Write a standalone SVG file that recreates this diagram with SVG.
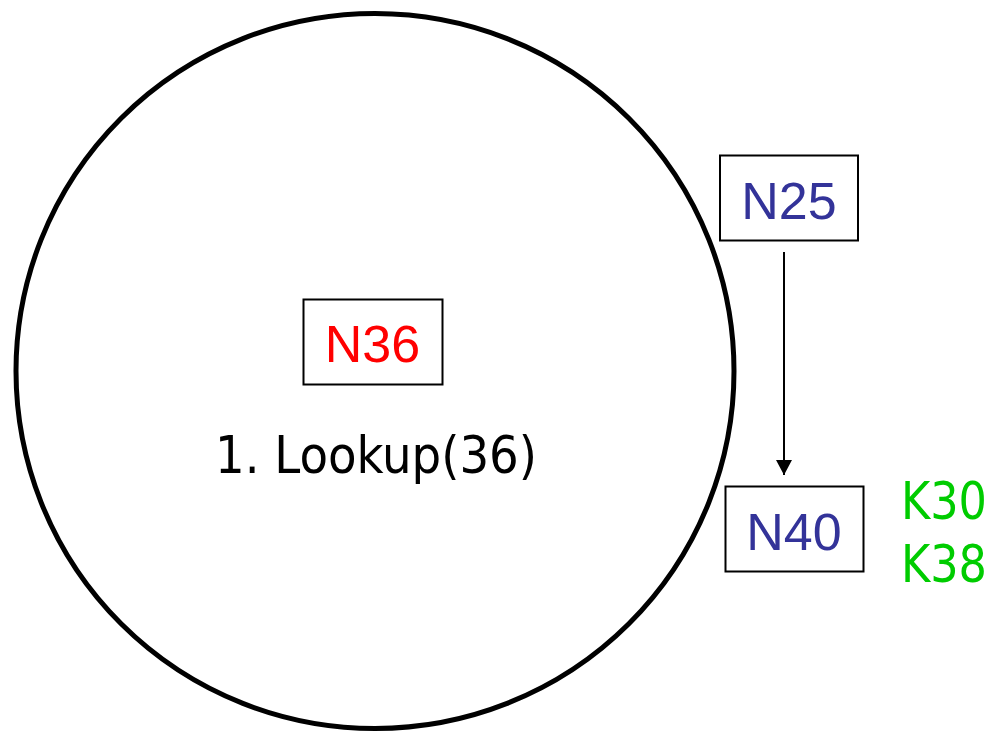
<svg xmlns="http://www.w3.org/2000/svg" width="993" height="732" viewBox="0 0 993 732">
<style>
.box{fill:#fff;stroke:#000;stroke-width:2}
.nl{font-family:"Liberation Sans",Arial,sans-serif;font-size:52px}
.tah{font-family:"DejaVu Sans Condensed","DejaVu Sans",sans-serif;font-size:52px}
</style>
<defs>
<marker id="ah" markerWidth="16" markerHeight="16" refX="15" refY="8" orient="auto" markerUnits="userSpaceOnUse">
<path d="M0,0 L15,8 L0,16 Z" fill="#000"/>
</marker>
</defs>
<rect width="993" height="732" fill="#fff"/>
<ellipse cx="375" cy="371" rx="359" ry="357.5" fill="none" stroke="#000" stroke-width="5"/>
<g id="connectors">
<line x1="784" y1="252" x2="784" y2="475" stroke="#000" stroke-width="2" marker-end="url(#ah)"/>
</g>
<g id="N36">
<rect class="box" x="303.5" y="299.5" width="139" height="85"/>
<text class="nl" x="372.5" y="362" text-anchor="middle" fill="#ff0000">N36</text>
</g>
<g id="lookup">
<text class="tah" x="215" y="473" textLength="322" lengthAdjust="spacingAndGlyphs" fill="#000">1. Lookup(36)</text>
</g>
<g id="N25">
<rect class="box" x="720" y="155.5" width="138" height="85"/>
<text class="nl" x="789" y="219" text-anchor="middle" fill="#333399">N25</text>
</g>
<g id="N40">
<rect class="box" x="725.5" y="486.5" width="138" height="85"/>
<text class="nl" x="794" y="550" text-anchor="middle" fill="#333399">N40</text>
</g>
<g id="keys">
<text class="tah" x="901" y="519" textLength="86" lengthAdjust="spacingAndGlyphs" fill="#00cc00">K30</text>
<text class="tah" x="901" y="582" textLength="86" lengthAdjust="spacingAndGlyphs" fill="#00cc00">K38</text>
</g>
</svg>
